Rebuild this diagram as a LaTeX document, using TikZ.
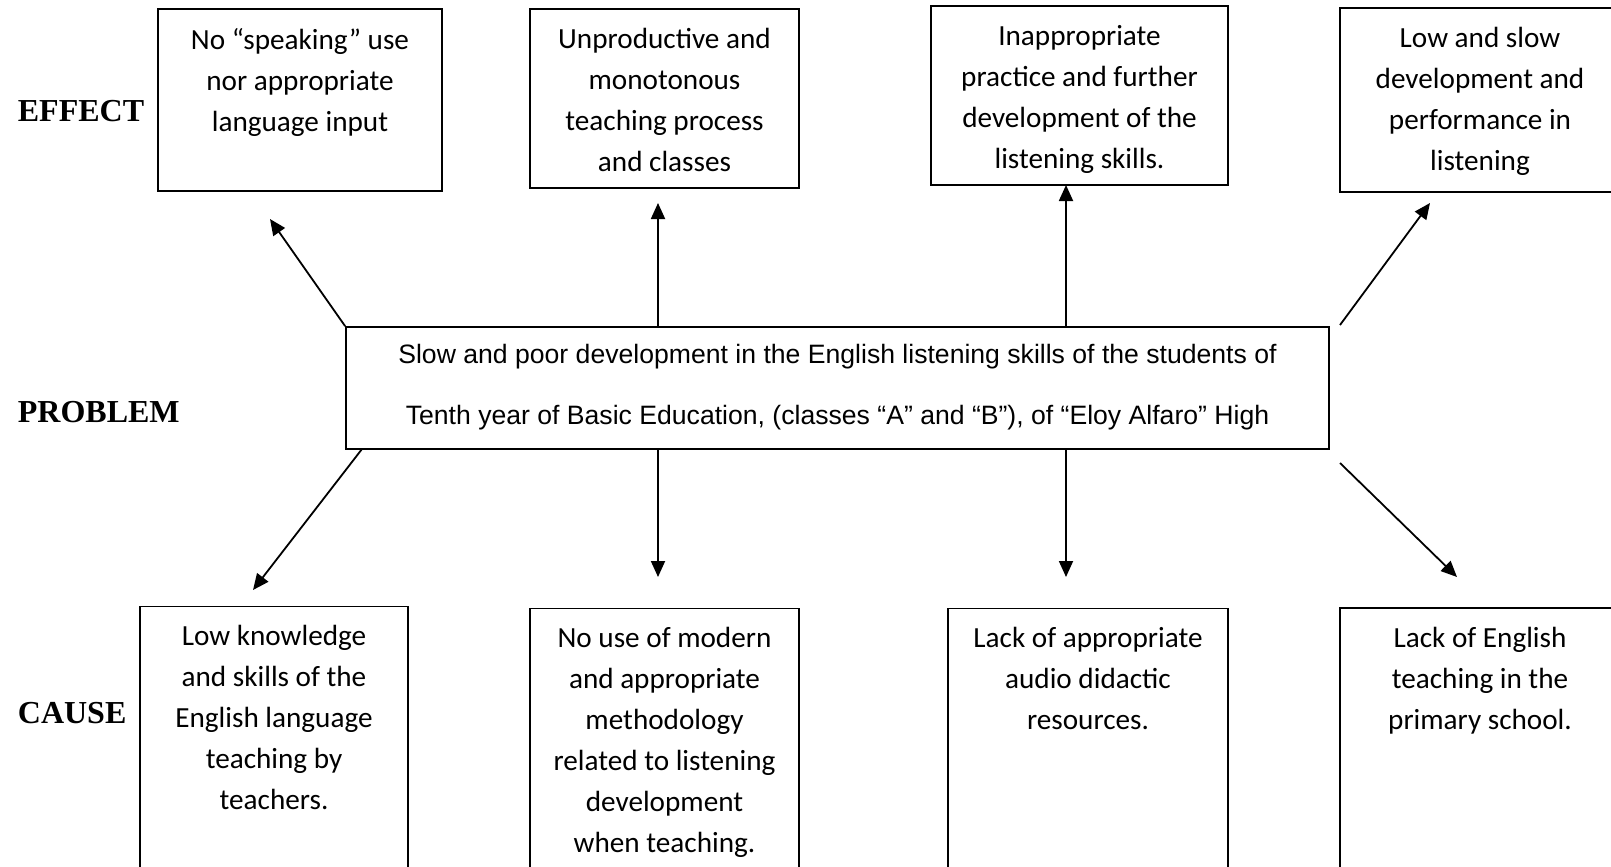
\documentclass[tikz,border=0pt]{standalone}
\usepackage{fontspec}
\setmainfont{Carlito}
\newfontfamily\arialfont{Liberation Sans}
\newfontfamily\timesfont{Liberation Serif}
\usetikzlibrary{arrows.meta,positioning}

\begin{document}
\begin{tikzpicture}[
            x = 0.5pt, y = -0.5pt, % one unit is one pixel of the page
            > = {Triangle[length=8pt, width=7pt]}, % arrow head style
            line width = 0.9pt,
            box/.style = {draw, line width = 0.9pt, inner sep = 0pt},
            boxtext/.style = {anchor = north, align = center, inner sep = 0pt,
                              font = \fontsize{14.6}{20.5}\selectfont},
            side/.style = {anchor = west, inner sep = 0pt,
                           font = \timesfont\bfseries\fontsize{16}{19}\selectfont}
        ]
    \useasboundingbox (0, 0) rectangle (1611, 867);
    \clip (0, 0) rectangle (1611, 867);

    % Row labels
    \node[side] (effect)  at (17, 111) {EFFECT};
    \node[side] (problem) at (17, 412) {PROBLEM};
    \node[side] (cause)   at (17, 713) {CAUSE};

    % Effect boxes
    \node[box, minimum width = 142pt, minimum height = 91pt]   (e1) at (300, 100)    {};
    \node[box, minimum width = 134.5pt, minimum height = 89.5pt] (e2) at (664.5, 98.5) {};
    \node[box, minimum width = 148.5pt, minimum height = 89.5pt] (e3) at (1079.5, 95.5) {};
    \node[box, minimum width = 140pt, minimum height = 92pt]   (e4) at (1480, 100)   {};
    \node[boxtext, below = 9.5pt of e1.north] {No “speaking” use\\nor appropriate\\language input};
    \node[boxtext, below = 9.5pt of e2.north] {Unproductive and\\monotonous\\teaching process\\and classes};
    \node[boxtext, below = 9.5pt of e3.north] {Inappropriate\\practice and further\\development of the\\listening skills.};
    \node[boxtext, below = 9.5pt of e4.north] {Low and slow\\development and\\performance in\\listening};

    % Problem box
    \node[box, minimum width = 491.5pt, minimum height = 61pt] (p) at (837.5, 388) {};
    \node[boxtext, below = 8.7pt of p.north, font = \arialfont\fontsize{13.3}{30.5}\selectfont]
        {Slow and poor development in the English listening skills of the students of\\
         Tenth year of Basic Education, (classes “A” and “B”), of “Eloy Alfaro” High};

    % Cause boxes
    \node[box, minimum width = 134pt, minimum height = 147pt]   (c1) at (274, 753.5)  {};
    \node[box, minimum width = 134.5pt, minimum height = 146pt] (c2) at (664.5, 754.5) {};
    \node[box, minimum width = 140pt, minimum height = 146pt]   (c3) at (1088, 754.5) {};
    \node[box, minimum width = 140pt, minimum height = 146pt]   (c4) at (1480, 754)   {};
    \node[boxtext, below = 9.5pt of c1.north] {Low knowledge\\and skills of the\\English language\\teaching by\\teachers.};
    \node[boxtext, below = 9.5pt of c2.north] {No use of modern\\and appropriate\\methodology\\related to listening\\development\\when teaching.};
    \node[boxtext, below = 9.5pt of c3.north] {Lack of appropriate\\audio didactic\\resources.};
    \node[boxtext, below = 9.5pt of c4.north] {Lack of English\\teaching in the\\primary school.};

    % Free ends of the arrows
    \coordinate (t1) at (270, 219);
    \coordinate (t2) at (658, 203);
    \coordinate (t3) at (1066, 185);
    \coordinate (s4) at (1340, 325);
    \coordinate (t4) at (1430, 203);
    \coordinate (s5) at (362, 449);
    \coordinate (u1) at (253, 590);
    \coordinate (u2) at (658, 577);
    \coordinate (u3) at (1066, 577);
    \coordinate (s8) at (1340, 463);
    \coordinate (u4) at (1457, 577);

    % Arrows from the problem
    \draw[->] (p.north west) -- (t1);
    \draw[->] (p.north -| t2) -- (t2);
    \draw[->] (p.north -| t3) -- (t3);
    \draw[->] (s4) -- (t4);
    \draw[->] (s5) -- (u1);
    \draw[->] (p.south -| u2) -- (u2);
    \draw[->] (p.south -| u3) -- (u3);
    \draw[->] (s8) -- (u4);
\end{tikzpicture}
\end{document}
